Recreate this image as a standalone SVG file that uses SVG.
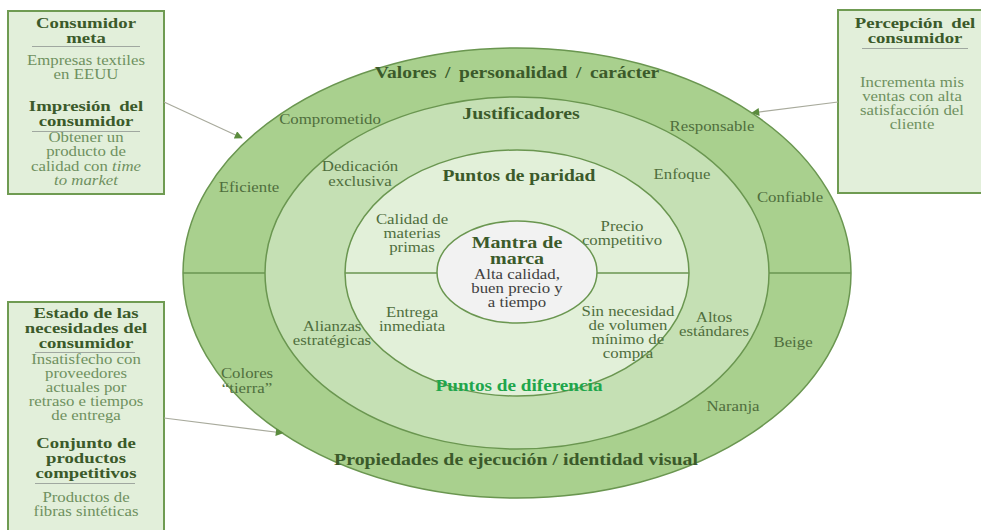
<svg xmlns="http://www.w3.org/2000/svg" width="981" height="530" viewBox="0 0 981 530" font-family="'Liberation Serif','Times New Roman',serif">
<defs>
<style>
text{font-family:"Liberation Serif","Times New Roman",serif;text-anchor:middle}
.bh{font-size:15px;font-weight:bold;fill:#3b5a2a}
.bt{font-size:14px;fill:#6f9160}
.rt{font-size:16px;font-weight:bold;fill:#3b5a2a}
.lb{font-size:14px;fill:#4f6e3d}
.ct{font-size:14px;fill:#404040}
.df{font-size:16px;font-weight:bold;fill:#1fa64c}
.box{fill:#e2efda;stroke:#6f9b52;stroke-width:2}
.ul{stroke:#a0a8a0;stroke-width:1}
.ring{stroke:#6a9650;stroke-width:1.5}
.conn{stroke:#a8aa9c;stroke-width:1.2;fill:none;marker-end:url(#ah)}
</style>
<marker id="ah" viewBox="0 0 10 10" refX="9" refY="5" markerWidth="10" markerHeight="8" markerUnits="userSpaceOnUse" orient="auto">
<path d="M0,0 L10,5 L0,10 z" fill="#5b8c3e"/>
</marker>
</defs>

<g id="rings">
<ellipse class="ring" cx="517" cy="273" rx="334" ry="225" fill="#a9d08e"/>
<line class="ring" x1="183" y1="273" x2="851" y2="273"/>
<ellipse class="ring" cx="517" cy="273" rx="252" ry="176" fill="#c5e0b4"/>
<ellipse class="ring" cx="517" cy="273" rx="172" ry="123" fill="#e2f0d9"/>
<line class="ring" x1="345" y1="273" x2="689" y2="273"/>
</g>

<g id="outer-ring">
<text class="rt" transform="translate(517,78) scale(1.22,1)" word-spacing="3">Valores / personalidad / carácter</text>
<text class="lb" transform="translate(330,124) scale(1.2,1)">Comprometido</text>
<text class="lb" transform="translate(712,131) scale(1.2,1)">Responsable</text>
<text class="lb" transform="translate(249,192) scale(1.2,1)">Eficiente</text>
<text class="lb" transform="translate(790,202) scale(1.2,1)">Confiable</text>
<text class="lb" transform="translate(793,347) scale(1.2,1)">Beige</text>
<text class="lb" transform="translate(247,378) scale(1.2,1)">Colores<tspan x="0" dy="15">“tierra”</tspan></text>
<text class="lb" transform="translate(733,411) scale(1.2,1)">Naranja</text>
<text class="rt" transform="translate(516,465) scale(1.24,1)">Propiedades de ejecución / identidad visual</text>
</g>

<g id="middle-ring">
<text class="rt" transform="translate(521,119) scale(1.24,1)">Justificadores</text>
<text class="lb" transform="translate(360,171) scale(1.2,1)">Dedicación<tspan x="0" dy="15">exclusiva</tspan></text>
<text class="lb" transform="translate(682,179) scale(1.2,1)">Enfoque</text>
<text class="lb" transform="translate(332,331) scale(1.2,1)">Alianzas<tspan x="0" dy="14">estratégicas</tspan></text>
<text class="lb" transform="translate(714,322) scale(1.2,1)">Altos<tspan x="0" dy="14">estándares</tspan></text>
</g>

<g id="inner-ring">
<text class="rt" transform="translate(519,181) scale(1.22,1)">Puntos de paridad</text>
<text class="lb" transform="translate(412,224) scale(1.2,1)">Calidad de<tspan x="0" dy="14">materias</tspan><tspan x="0" dy="14">primas</tspan></text>
<text class="lb" transform="translate(622,231) scale(1.2,1)">Precio<tspan x="0" dy="14">competitivo</tspan></text>
<text class="lb" transform="translate(412,317) scale(1.2,1)">Entrega<tspan x="0" dy="14">inmediata</tspan></text>
<text class="lb" transform="translate(628,316) scale(1.2,1)">Sin necesidad<tspan x="0" dy="14">de volumen</tspan><tspan x="0" dy="14">mínimo de</tspan><tspan x="0" dy="14">compra</tspan></text>
<text class="df" transform="translate(519,391) scale(1.2,1)">Puntos de diferencia</text>
</g>

<g id="mantra">
<ellipse class="ring" cx="517" cy="272" rx="80" ry="51" fill="#f2f2f2"/>
<text class="rt" transform="translate(517,248) scale(1.25,1)">Mantra de<tspan x="0" dy="16">marca</tspan></text>
<text class="ct" transform="translate(517,279) scale(1.2,1)">Alta calidad,<tspan x="0" dy="14">buen precio y</tspan><tspan x="0" dy="14">a tiempo</tspan></text>
</g>

<g id="box-consumidor-meta">
<rect class="box" x="8" y="11" width="156" height="183"/>
<text class="bh" transform="translate(86,28) scale(1.25,1)">Consumidor<tspan x="0" dy="15">meta</tspan></text>
<line class="ul" x1="32" y1="46.5" x2="140" y2="46.5"/>
<text class="bt" transform="translate(86,65) scale(1.2,1)">Empresas textiles<tspan x="0" dy="14">en EEUU</tspan></text>
<text class="bh" transform="translate(86,111) scale(1.25,1)" word-spacing="3">Impresión del<tspan x="0" dy="15">consumidor</tspan></text>
<line class="ul" x1="32" y1="131.5" x2="140" y2="131.5"/>
<text class="bt" transform="translate(86,142) scale(1.2,1)">Obtener un<tspan x="0" dy="14.5">producto de</tspan><tspan x="0" dy="14.5">calidad con <tspan font-style="italic">time</tspan></tspan><tspan x="0" dy="14.5" font-style="italic">to market</tspan></text>
</g>

<g id="box-percepcion">
<rect class="box" x="838" y="10" width="150" height="183"/>
<text class="bh" transform="translate(915,28) scale(1.25,1)" word-spacing="3">Percepción del<tspan x="0" dy="15">consumidor</tspan></text>
<line class="ul" x1="862" y1="48.5" x2="968" y2="48.5"/>
<text class="bt" transform="translate(912,87) scale(1.2,1)">Incrementa mis<tspan x="0" dy="14">ventas con alta</tspan><tspan x="0" dy="14">satisfacción del</tspan><tspan x="0" dy="14">cliente</tspan></text>
</g>

<g id="box-necesidades">
<rect class="box" x="8" y="302" width="156" height="240"/>
<text class="bh" transform="translate(86,318) scale(1.25,1)">Estado de las<tspan x="0" dy="15">necesidades del</tspan><tspan x="0" dy="15">consumidor</tspan></text>
<line class="ul" x1="35" y1="352.5" x2="135" y2="352.5"/>
<text class="bt" transform="translate(86,364) scale(1.2,1)">Insatisfecho con<tspan x="0" dy="14">proveedores</tspan><tspan x="0" dy="14">actuales por</tspan><tspan x="0" dy="14">retraso e tiempos</tspan><tspan x="0" dy="14">de entrega</tspan></text>
<text class="bh" transform="translate(86,448) scale(1.25,1)">Conjunto de<tspan x="0" dy="15">productos</tspan><tspan x="0" dy="15">competitivos</tspan></text>
<line class="ul" x1="35" y1="483.5" x2="135" y2="483.5"/>
<text class="bt" transform="translate(86,502) scale(1.2,1)">Productos de<tspan x="0" dy="14">fibras sintéticas</tspan></text>
</g>

<g id="connectors">
<line class="conn" x1="164" y1="102" x2="242" y2="138"/>
<line class="conn" x1="838" y1="102" x2="752" y2="113"/>
<line class="conn" x1="164" y1="418" x2="283" y2="433"/>
</g>
</svg>
